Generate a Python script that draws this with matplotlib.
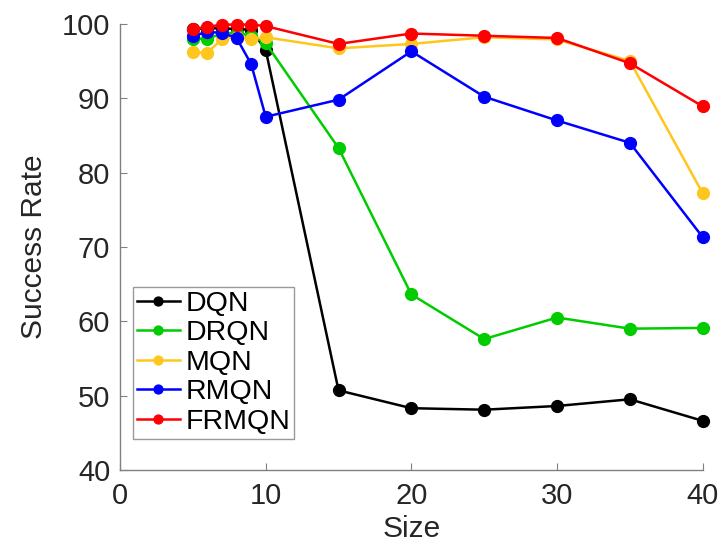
import matplotlib
matplotlib.use("Agg")
import matplotlib.pyplot as plt

sizes = [5, 6, 7, 8, 9, 10, 15, 20, 25, 30, 35, 40]
dqn   = [99.3, 99.4, 99.4, 99.3, 99.2, 96.5, 50.7, 48.3, 48.1, 48.6, 49.5, 46.6]
drqn  = [98.0, 98.0, 98.7, 98.8, 98.4, 97.4, 83.3, 63.6, 57.6, 60.5, 59.0, 59.1]
mqn   = [96.2, 96.1, 98.0, 98.2, 98.0, 98.2, 96.7, 97.3, 98.2, 97.9, 95.0, 77.2]
rmqn  = [98.4, 98.9, 98.8, 98.1, 94.6, 87.5, 89.8, 96.3, 90.2, 87.0, 84.0, 71.3]
frmqn = [99.3, 99.6, 99.9, 99.9, 99.9, 99.7, 97.3, 98.7, 98.4, 98.1, 94.7, 88.9]

series = [("DQN", dqn, "#000000"),
          ("DRQN", drqn, "#00CC00"),
          ("MQN", mqn, "#FFC61E"),
          ("RMQN", rmqn, "#0000FF"),
          ("FRMQN", frmqn, "#FF0000")]

plt.rcParams['font.family'] = ['Liberation Sans', 'DejaVu Sans']

fig = plt.figure(figsize=(7.2, 5.42), dpi=100)
ax = fig.add_axes([0.1667, 0.133, 0.8093, 0.823])

for name, vals, col in series:
    ax.plot(sizes, vals, color=col, lw=1.8, marker='o', ms=8.5, label=name, clip_on=False)

ax.set_xlim(0, 40)
ax.set_ylim(40, 100)
ax.set_xticks([0, 10, 20, 30, 40])
ax.set_yticks([40, 50, 60, 70, 80, 90, 100])

for s in ['top', 'right']:
    ax.spines[s].set_visible(False)
for s in ['left', 'bottom']:
    ax.spines[s].set_color('#808080')
    ax.spines[s].set_linewidth(1.0)
ax.tick_params(direction='in', length=5, color='#808080', labelsize=21, labelcolor='#262626')
ax.tick_params(axis='x', pad=9)
ax.tick_params(axis='y', pad=7)

ax.set_xlabel("Size", fontsize=21.5, color='#262626', labelpad=3)
ax.set_ylabel("Success Rate", fontsize=21.5, color='#262626', labelpad=10)

leg = ax.legend(loc='lower left', bbox_to_anchor=(0.022, 0.07), fontsize=20.5, frameon=True,
                fancybox=False, edgecolor='#808080', handlelength=1.5, handletextpad=0.2,
                labelspacing=0.12, borderpad=0.14, borderaxespad=0, markerscale=0.75)
leg.get_frame().set_linewidth(1.0)
for t in leg.get_texts():
    t.set_color('#000000')

fig.savefig("out.png", dpi=100)
